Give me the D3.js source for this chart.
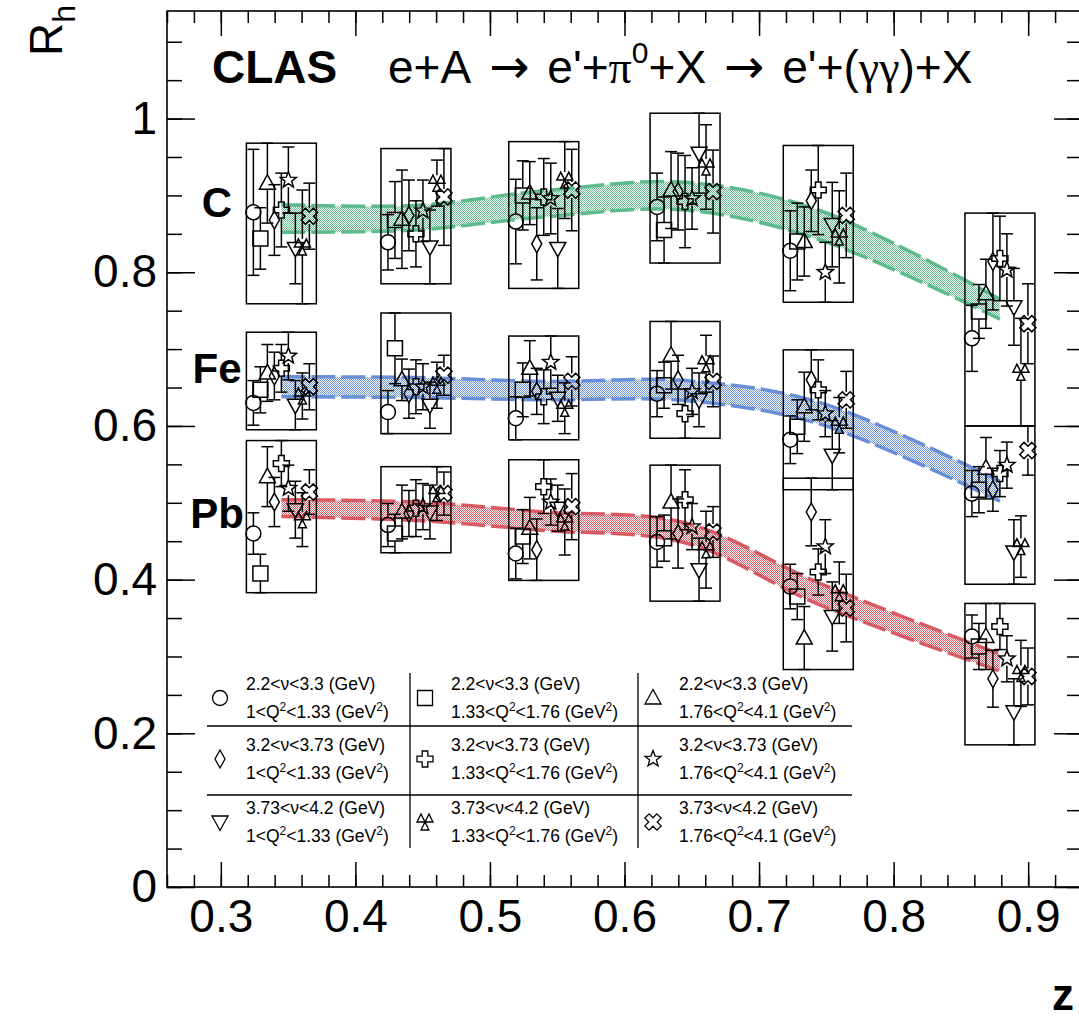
<!DOCTYPE html>
<html>
<head>
<meta charset="utf-8">
<title>CLAS R_h vs z</title>
<script src="https://cdn.jsdelivr.net/npm/d3@7"></script>
<style>
body { margin: 0; background: #fff; }
svg { display: block; font-family: "Liberation Sans", Arial, Helvetica, sans-serif; }
</style>
</head>
<body>
<div id="chart"></div>
<script>
// mean z of each bin
const zBins = [0.345, 0.445, 0.540, 0.645, 0.744, 0.879];

// legend labels (nu bin x Q2 bin)
const nuLabels = ["2.2<ν<3.3", "3.2<ν<3.73", "3.73<ν<4.2"];
const q2Labels = [["1", "1.33"], ["1.33", "1.76"], ["1.76", "4.1"]];
// series order inside a z bin: nu-major, Q2-minor
const markerNames = ["circle", "square", "triangle", "diamond", "cross", "star", "triangledown", "threetri", "crossx"];

// Rh values [zbin][series]
const rC = [
  [0.878, 0.844, 0.916, 0.868, 0.881, 0.920, 0.831, 0.833, 0.873],
  [0.839, 0.868, 0.869, 0.874, 0.850, 0.880, 0.833, 0.916, 0.898],
  [0.866, 0.900, 0.903, 0.837, 0.898, 0.896, 0.831, 0.920, 0.907],
  [0.885, 0.855, 0.907, 0.905, 0.892, 0.896, 0.955, 0.937, 0.905],
  [0.828, 0.840, 0.840, 0.893, 0.907, 0.800, 0.862, 0.846, 0.874],
  [0.714, 0.749, 0.772, 0.814, 0.818, 0.803, 0.755, 0.670, 0.733]
];
const eC = [
  [0.082, 0.040, 0.052, 0.046, 0.048, 0.043, 0.046, 0.074, 0.043],
  [0.036, 0.050, 0.064, 0.046, 0.043, 0.040, 0.048, 0.030, 0.063],
  [0.055, 0.045, 0.041, 0.047, 0.050, 0.046, 0.052, 0.050, 0.053],
  [0.044, 0.043, 0.050, 0.050, 0.060, 0.040, 0.052, 0.055, 0.054],
  [0.052, 0.050, 0.045, 0.040, 0.058, 0.039, 0.055, 0.060, 0.055],
  [0.043, 0.035, 0.045, 0.063, 0.055, 0.047, 0.050, 0.070, 0.052]
];
const rFe = [
  [0.630, 0.647, 0.669, 0.665, 0.675, 0.691, 0.627, 0.639, 0.651],
  [0.618, 0.701, 0.660, 0.642, 0.651, 0.651, 0.627, 0.653, 0.666],
  [0.610, 0.647, 0.675, 0.645, 0.638, 0.683, 0.636, 0.623, 0.658],
  [0.642, 0.653, 0.692, 0.660, 0.616, 0.645, 0.634, 0.681, 0.658],
  [0.582, 0.599, 0.625, 0.660, 0.647, 0.616, 0.562, 0.601, 0.634],
  [0.512, 0.517, 0.545, 0.517, 0.538, 0.549, 0.436, 0.443, 0.568]
];
const eFe = [
  [0.029, 0.030, 0.037, 0.031, 0.031, 0.031, 0.032, 0.030, 0.030],
  [0.028, 0.046, 0.027, 0.032, 0.035, 0.030, 0.030, 0.030, 0.026],
  [0.028, 0.035, 0.036, 0.030, 0.035, 0.034, 0.030, 0.033, 0.032],
  [0.030, 0.030, 0.044, 0.032, 0.032, 0.030, 0.035, 0.037, 0.033],
  [0.031, 0.035, 0.045, 0.039, 0.039, 0.030, 0.045, 0.036, 0.037],
  [0.030, 0.030, 0.040, 0.028, 0.030, 0.030, 0.042, 0.040, 0.032]
];
const rPb = [
  [0.460, 0.408, 0.534, 0.501, 0.551, 0.519, 0.491, 0.478, 0.514],
  [0.471, 0.460, 0.488, 0.486, 0.493, 0.495, 0.488, 0.512, 0.512],
  [0.434, 0.456, 0.467, 0.439, 0.521, 0.501, 0.493, 0.475, 0.495],
  [0.449, 0.454, 0.501, 0.460, 0.504, 0.469, 0.413, 0.439, 0.462],
  [0.391, 0.378, 0.324, 0.488, 0.410, 0.443, 0.352, 0.383, 0.363],
  [0.326, 0.313, 0.326, 0.271, 0.339, 0.297, 0.228, 0.278, 0.274]
];
const ePb = [
  [0.027, 0.025, 0.039, 0.032, 0.030, 0.030, 0.037, 0.035, 0.029],
  [0.028, 0.025, 0.035, 0.030, 0.037, 0.030, 0.035, 0.035, 0.028],
  [0.033, 0.035, 0.040, 0.040, 0.035, 0.030, 0.030, 0.043, 0.043],
  [0.033, 0.030, 0.048, 0.045, 0.039, 0.030, 0.041, 0.050, 0.033],
  [0.029, 0.030, 0.041, 0.044, 0.030, 0.035, 0.045, 0.040, 0.044],
  [0.028, 0.030, 0.043, 0.037, 0.030, 0.030, 0.043, 0.043, 0.037]
];

// model bands: centre and half width at each z bin
const bandC   = [0.870, 0.871, 0.889, 0.899, 0.862, 0.752];
const bandCw  = [0.018, 0.016, 0.017, 0.018, 0.019, 0.013];
const bandFe  = [0.651, 0.650, 0.646, 0.646, 0.617, 0.515];
const bandFew = [0.013, 0.013, 0.012, 0.013, 0.014, 0.013];
const bandPb  = [0.493, 0.489, 0.476, 0.461, 0.382, 0.292];
const bandPbw = [0.011, 0.012, 0.012, 0.013, 0.014, 0.011];

const nuclei = [
  {name: "C",  r: rC,  e: eC,  band: bandC,  bw: bandCw,  color: "#5cba8b", labelV: 0.892},
  {name: "Fe", r: rFe, e: eFe, band: bandFe, bw: bandFew, color: "#6a8fd9", labelV: 0.675},
  {name: "Pb", r: rPb, e: ePb, band: bandPb, bw: bandPbw, color: "#da5a64", labelV: 0.487}
];

const W = 1079, H = 1019;
const x = d3.scaleLinear().domain([0.26, 0.94]).range([167, 1082]);
const y = d3.scaleLinear().domain([0, 1.14]).range([887, 11]);
const dz = 0.0052;     // marker spread inside a bin
const boxHalf = 0.026; // half width of the syst. boxes

const svg = d3.select("#chart").append("svg")
  .attr("width", W)
  .attr("height", H);

// ---- marker shapes
function poly(pts) { return "M" + pts.map(p => p[0].toFixed(2) + "," + p[1].toFixed(2)).join("L") + "Z"; }
function plusPts(a, s, rot) {
  const pts = [[-a,-s],[a,-s],[a,-a],[s,-a],[s,a],[a,a],[a,s],[-a,s],[-a,a],[-s,a],[-s,-a],[-a,-a]];
  const c = Math.cos(rot), sn = Math.sin(rot);
  return pts.map(p => [p[0]*c - p[1]*sn, p[0]*sn + p[1]*c]);
}
function starPts(R, r) {
  const pts = [];
  for (let i = 0; i < 10; i++) {
    const ang = -Math.PI/2 + i*Math.PI/5;
    const rr = i % 2 ? r : R;
    pts.push([rr*Math.cos(ang), rr*Math.sin(ang)]);
  }
  return pts;
}
const markers = {
  circle:       {d: "M-7.5,0A7.5,7.5 0 1,0 7.5,0A7.5,7.5 0 1,0 -7.5,0Z", top: 7.5, bot: 7.5},
  square:       {d: poly([[-7.5,-7.5],[7.5,-7.5],[7.5,7.5],[-7.5,7.5]]), top: 7.5, bot: 7.5},
  triangle:     {d: poly([[0,-8.5],[8,6],[-8,6]]), top: 8.5, bot: 6},
  diamond:      {d: poly([[0,-9],[5,0],[0,9],[-5,0]]), top: 9, bot: 9},
  cross:        {d: poly(plusPts(2.8, 8, 0)), top: 8, bot: 8},
  star:         {d: poly(starPts(8.5, 3.6)), top: 8.5, bot: 7},
  triangledown: {d: poly([[0,8.5],[8,-6],[-8,-6]]), top: 6, bot: 8.5},
  threetri:     {d: "M0,0L-4,-8L-8,0ZM0,0L4,-8L8,0ZM0,0L-4,8L4,8Z", top: 8, bot: 8},
  crossx:       {d: poly(plusPts(3, 8.5, Math.PI/4)), top: 8, bot: 8}
};

// ---- band patterns
const defs = svg.append("defs");
nuclei.forEach(n => {
  const p = defs.append("pattern")
    .attr("id", "fill" + n.name)
    .attr("width", 2).attr("height", 2)
    .attr("patternUnits", "userSpaceOnUse");
  p.append("rect").attr("width", 1).attr("height", 1).attr("fill", n.color);
  p.append("rect").attr("x", 1).attr("y", 1).attr("width", 1).attr("height", 1).attr("fill", n.color);
});

// ---- bands
const bandLayer = svg.append("g");
nuclei.forEach(n => {
  const pts = zBins.map((z, i) => ({z: z, lo: n.band[i] - n.bw[i], hi: n.band[i] + n.bw[i]}));
  const area = d3.area().curve(d3.curveCatmullRom)
    .x(d => x(d.z)).y0(d => y(d.lo)).y1(d => y(d.hi));
  bandLayer.append("path").datum(pts)
    .attr("d", area)
    .attr("fill", "url(#fill" + n.name + ")");
  ["lo", "hi"].forEach(k => {
    bandLayer.append("path").datum(pts)
      .attr("d", d3.line().curve(d3.curveCatmullRom).x(d => x(d.z)).y(d => y(d[k])))
      .attr("fill", "none")
      .attr("stroke", n.color)
      .attr("stroke-width", 3.5)
      .attr("stroke-dasharray", "24 6");
  });
});

// ---- boxes, error bars, markers
const dataLayer = svg.append("g")
  .attr("fill", "none")
  .attr("stroke", "#000")
  .attr("stroke-width", 1.5);

nuclei.forEach(n => {
  zBins.forEach((zc, b) => {
    const vals = n.r[b], errs = n.e[b];
    const top = d3.max(vals, (v, i) => v + errs[i]);
    const bot = d3.min(vals, (v, i) => v - errs[i]);
    dataLayer.append("rect")
      .attr("x", x(zc - boxHalf))
      .attr("y", y(top))
      .attr("width", x(zc + boxHalf) - x(zc - boxHalf))
      .attr("height", y(bot) - y(top));

    vals.forEach((v, i) => {
      const m = markers[markerNames[i]];
      const px = x(zc + (i - 4) * dz), py = y(v);
      const yHi = y(v + errs[i]), yLo = y(v - errs[i]);
      const g = dataLayer.append("g");
      if (py - m.top > yHi) g.append("line").attr("x1", px).attr("x2", px).attr("y1", yHi).attr("y2", py - m.top);
      if (py + m.bot < yLo) g.append("line").attr("x1", px).attr("x2", px).attr("y1", py + m.bot).attr("y2", yLo);
      g.append("line").attr("x1", px - 6).attr("x2", px + 6).attr("y1", yHi).attr("y2", yHi);
      g.append("line").attr("x1", px - 6).attr("x2", px + 6).attr("y1", yLo).attr("y2", yLo);
      g.append("path").attr("d", m.d).attr("transform", `translate(${px},${py})`);
    });
  });
});

// ---- nucleus labels
svg.append("g").selectAll("text")
  .data(nuclei)
  .join("text")
  .attr("x", 217)
  .attr("y", d => y(d.labelV))
  .attr("dy", "0.36em")
  .attr("text-anchor", "middle")
  .attr("font-weight", "bold")
  .attr("font-size", 42)
  .text(d => d.name);

// ---- axes (ticks on all four sides, pointing inwards)
const xMinor = d3.range(13, 48).map(i => +(i * 0.02).toFixed(2));
const xMajor = x.ticks(7);
const yMinor = d3.range(0, 23).map(i => +(i * 0.05).toFixed(2));
const yMajor = [0, 0.2, 0.4, 0.6, 0.8, 1];
const fmt = d3.format("~g");

function axisGroup(axis, tr) {
  const g = svg.append("g").attr("transform", tr).call(axis);
  g.select(".domain").remove();
  g.selectAll("line").attr("stroke-width", 1.5);
  g.selectAll("text").attr("font-size", 46).attr("fill", "#000")
    .attr("font-family", "Liberation Sans, Arial, sans-serif");
  return g;
}
axisGroup(d3.axisBottom(x).tickValues(xMinor).tickSize(-12).tickFormat(""), "translate(0,887)");
axisGroup(d3.axisBottom(x).tickValues(xMajor).tickSize(-25).tickPadding(12).tickFormat(fmt), "translate(0,887)");
axisGroup(d3.axisTop(x).tickValues(xMinor).tickSize(-12).tickFormat(""), "translate(0,11)");
axisGroup(d3.axisTop(x).tickValues(xMajor).tickSize(-25).tickFormat(""), "translate(0,11)");
axisGroup(d3.axisLeft(y).tickValues(yMinor).tickSize(-15).tickFormat(""), "translate(167,0)");
axisGroup(d3.axisLeft(y).tickValues(yMajor).tickSize(-28).tickPadding(10).tickFormat(fmt), "translate(167,0)");
axisGroup(d3.axisRight(y).tickValues(yMinor).tickSize(-15).tickFormat(""), "translate(1082,0)");
axisGroup(d3.axisRight(y).tickValues(yMajor).tickSize(-28).tickFormat(""), "translate(1082,0)");

// frame
svg.append("rect")
  .attr("x", x.range()[0]).attr("y", y.range()[1])
  .attr("width", x.range()[1] - x.range()[0])
  .attr("height", y.range()[0] - y.range()[1])
  .attr("fill", "none").attr("stroke", "#000").attr("stroke-width", 1.6);

// ---- axis titles
const yt = svg.append("text")
  .attr("transform", "translate(62,56) rotate(-90)")
  .attr("font-size", 46);
yt.append("tspan").text("R");
yt.append("tspan").attr("font-size", 32).attr("dy", 13).text("h");

svg.append("text")
  .attr("x", 1074).attr("y", 1010)
  .attr("text-anchor", "end")
  .attr("font-size", 44).attr("font-weight", "bold")
  .text("z");

// ---- title
svg.append("text")
  .attr("x", 212).attr("y", 83)
  .attr("font-size", 46).attr("font-weight", "bold")
  .text("CLAS");

const title = svg.append("text").attr("x", 388).attr("y", 83).attr("font-size", 46);
const serif = "Liberation Serif, Times New Roman, serif";
const arrowFont = "DejaVu Sans, sans-serif";
title.append("tspan").text("e+A");
title.append("tspan").attr("dx", 18).attr("font-family", arrowFont).attr("font-size", 48).text("\u2192");
title.append("tspan").attr("dx", 18).text("e'+");
title.append("tspan").attr("font-family", serif).text("π");
title.append("tspan").attr("font-size", 30).attr("dy", -20).text("0");
title.append("tspan").attr("dy", 20).text("+X");
title.append("tspan").attr("dx", 18).attr("font-family", arrowFont).attr("font-size", 48).text("\u2192");
title.append("tspan").attr("dx", 18).text("e'+(");
title.append("tspan").attr("font-family", serif).text("γγ");
title.append("tspan").text(")+X");

// ---- legend
const legCols = [205, 410, 638];
const legRows = [698, 759, 822];
const leg = svg.append("g");
leg.selectAll("line.h").data([726, 795]).join("line")
  .attr("x1", 207).attr("x2", 852).attr("y1", d => d).attr("y2", d => d)
  .attr("stroke", "#000").attr("stroke-width", 1.3);
leg.selectAll("line.v").data([410, 638]).join("line")
  .attr("x1", d => d).attr("x2", d => d).attr("y1", 673).attr("y2", 848)
  .attr("stroke", "#000").attr("stroke-width", 1.3);

markerNames.forEach((name, i) => {
  const row = Math.floor(i / 3), col = i % 3;
  const cx = legCols[col] + 15, cy = legRows[row];
  leg.append("path")
    .attr("d", markers[name].d)
    .attr("transform", `translate(${cx},${cy})`)
    .attr("fill", "none").attr("stroke", "#000").attr("stroke-width", 1.3);
  const tx = legCols[col] + 41;
  leg.append("text").attr("x", tx).attr("y", cy - 8).attr("font-size", 17.5)
    .text(nuLabels[row] + " (GeV)");
  const t2 = leg.append("text").attr("x", tx).attr("y", cy + 20).attr("font-size", 17.5);
  t2.append("tspan").text(q2Labels[col][0] + "<Q");
  t2.append("tspan").attr("font-size", 12).attr("dy", -7).text("2");
  t2.append("tspan").attr("dy", 7).text("<" + q2Labels[col][1] + " (GeV");
  t2.append("tspan").attr("font-size", 12).attr("dy", -7).text("2");
  t2.append("tspan").attr("dy", 7).text(")");
});
</script>
</body>
</html>
